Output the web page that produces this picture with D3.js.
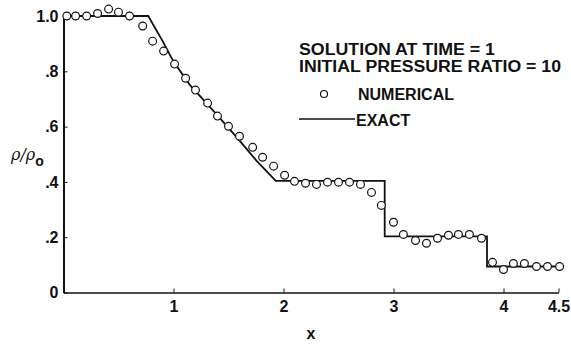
<!DOCTYPE html>
<html lang="en">
  <head>
    <meta charset="UTF-8" />
    <title>Shock tube density</title>
    <script src="https://d3js.org/d3.v7.min.js"></script>
    <style>
      body {
        margin: 0;
        background: #fff;
      }
      svg text {
        font-family: 'Liberation Sans', Arial, sans-serif;
        font-weight: bold;
        fill: #111;
      }
      .axis path,
      .axis line {
        stroke: #111;
      }
    </style>
  </head>
  <body>
    <div id="chart"></div>
    <script>
      // numerical solution (circles)
      const numX = [0.03, 0.11, 0.21, 0.31, 0.41, 0.5, 0.6, 0.72, 0.81, 0.91,
        1.01, 1.11, 1.2, 1.31, 1.4, 1.5, 1.6, 1.72, 1.81, 1.91,
        2.01, 2.1, 2.2, 2.3, 2.4, 2.5, 2.6, 2.7, 2.8, 2.89,
        3.0, 3.09, 3.2, 3.3, 3.4, 3.5, 3.59, 3.69, 3.8, 3.9,
        4.0, 4.09, 4.19, 4.3, 4.4, 4.51];
      const numY = [1.0, 1.0, 1.0, 1.009, 1.025, 1.014, 1.0, 0.964, 0.909, 0.873,
        0.826, 0.775, 0.732, 0.685, 0.638, 0.601, 0.565, 0.525, 0.489, 0.457,
        0.424, 0.402, 0.395, 0.391, 0.399, 0.399, 0.399, 0.391, 0.362, 0.315,
        0.254, 0.21, 0.188, 0.178, 0.196, 0.207, 0.21, 0.21, 0.196, 0.109,
        0.083, 0.105, 0.105, 0.094, 0.094, 0.094];

      // exact solution (line)
      const exactX = [0, 0.77, 0.9, 1.0, 1.15, 1.31, 1.49, 1.61, 1.76, 1.93,
        2.92, 2.92, 3.85, 3.85, 4.5];
      const exactY = [1.0, 1.0, 0.91, 0.835, 0.75, 0.68, 0.6, 0.545, 0.474, 0.404,
        0.404, 0.203, 0.203, 0.094, 0.094];

      const xTicks = [1, 2, 3, 4, 4.5];
      const yTicks = [0, 0.2, 0.4, 0.6, 0.8, 1.0];
      const legendLines = ['SOLUTION AT TIME = 1', 'INITIAL PRESSURE RATIO = 10'];

      const width = 571;
      const height = 344;

      const svg = d3
        .select('#chart')
        .append('svg')
        .attr('width', width)
        .attr('height', height);

      const x = d3.scaleLinear().domain([0, 4.5]).range([63.5, 558.5]);
      const y = d3.scaleLinear().domain([0, 1]).range([292.5, 16]);

      // axes
      svg
        .append('g')
        .attr('class', 'axis')
        .attr('transform', `translate(0,${y(0)})`)
        .call(
          d3
            .axisBottom(x)
            .tickValues(xTicks)
            .tickSizeInner(-4)
            .tickSizeOuter(0)
            .tickPadding(8)
            .tickFormat((d) => (d === 4.5 ? '4.5' : d3.format('d')(d)))
        )
        .call((g) => g.select('.domain').attr('stroke-width', 1.5))
        .call((g) => g.selectAll('text').style('font-size', '16px'));

      svg
        .append('g')
        .attr('class', 'axis')
        .attr('transform', `translate(${x(0)},0)`)
        .call(
          d3
            .axisLeft(y)
            .tickValues(yTicks)
            .tickSizeInner(-4)
            .tickSizeOuter(0)
            .tickPadding(5)
            .tickFormat((d) =>
              d === 0 ? '0' : d === 1 ? '1.0' : d3.format('.1f')(d).replace(/^0/, '')
            )
        )
        .call((g) => g.select('.domain').attr('stroke-width', 2))
        .call((g) => g.selectAll('text').style('font-size', '16px'));

      // axis titles
      svg
        .append('text')
        .attr('x', (x(0) + x(4.5)) / 2)
        .attr('y', 339)
        .attr('text-anchor', 'middle')
        .style('font-size', '16px')
        .text('x');

      const yTitle = svg
        .append('text')
        .attr('x', 11)
        .attr('y', 160)
        .style('font-size', '16px');
      yTitle
        .append('tspan')
        .style('font-family', "'DejaVu Serif', serif")
        .style('font-style', 'italic')
        .style('font-weight', 'normal')
        .text('ρ/ρ');
      yTitle
        .append('tspan')
        .attr('dy', 6)
        .style('font-size', '14px')
        .text('o');

      // exact line
      const line = d3
        .line()
        .x((d, i) => x(exactX[i]))
        .y((d, i) => y(exactY[i]));

      svg
        .append('path')
        .datum(exactX)
        .attr('d', line)
        .attr('fill', 'none')
        .attr('stroke', '#111')
        .attr('stroke-width', 1.8);

      // numerical circles
      svg
        .append('g')
        .selectAll('circle')
        .data(numX)
        .join('circle')
        .attr('cx', (d) => x(d))
        .attr('cy', (d, i) => y(numY[i]))
        .attr('r', 3.9)
        .attr('fill', '#fff')
        .attr('stroke', '#111')
        .attr('stroke-width', 1.2);

      // legend
      const legend = svg.append('g');
      legend
        .selectAll('text.title')
        .data(legendLines)
        .join('text')
        .attr('class', 'title')
        .attr('x', 299)
        .attr('y', (d, i) => 55 + i * 17)
        .attr('textLength', (d, i) => (i === 0 ? 196 : 262))
        .attr('lengthAdjust', 'spacingAndGlyphs')
        .style('font-size', '16px')
        .text((d) => d);

      legend
        .append('circle')
        .attr('cx', 324)
        .attr('cy', 94)
        .attr('r', 3.5)
        .attr('fill', '#fff')
        .attr('stroke', '#111')
        .attr('stroke-width', 1.2);
      legend
        .append('text')
        .attr('x', 358)
        .attr('y', 100)
        .style('font-size', '16px')
        .text('NUMERICAL');

      legend
        .append('line')
        .attr('x1', 299)
        .attr('x2', 355)
        .attr('y1', 119)
        .attr('y2', 119)
        .attr('stroke', '#111')
        .attr('stroke-width', 1.5);
      legend
        .append('text')
        .attr('x', 356)
        .attr('y', 126)
        .style('font-size', '16px')
        .text('EXACT');
    </script>
  </body>
</html>
